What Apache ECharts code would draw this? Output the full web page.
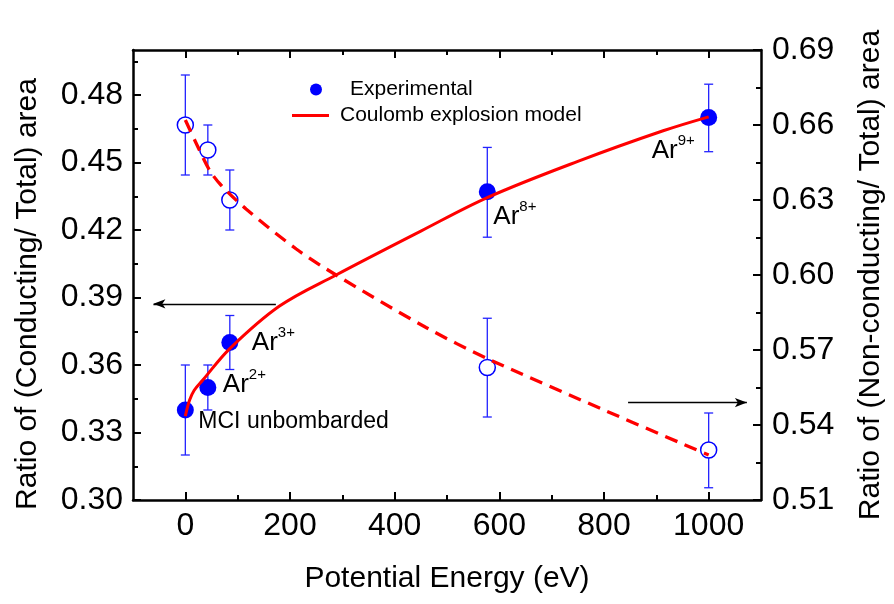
<!DOCTYPE html>
<html><head><meta charset="utf-8">
<script src="https://cdn.jsdelivr.net/npm/echarts@6/dist/echarts.min.js"></script>
<style>html,body{margin:0;padding:0;background:#fff}#c{width:894px;height:604px}</style>
</head><body><div id="c"></div>
<script>
// ---- data ----
const energy = [0, 43, 85, 577, 1000];
const condRatio = [0.340, 0.350, 0.370, 0.437, 0.470];
const condLow = [0.320, 0.340, 0.358, 0.4168, 0.4548];
const condHigh = [0.360, 0.360, 0.382, 0.4567, 0.4848];
const nonRatio = [0.660, 0.650, 0.630, 0.563, 0.530];
const nonLow = [0.640, 0.640, 0.618, 0.5432, 0.5149];
const nonHigh = [0.680, 0.660, 0.642, 0.5827, 0.5448];
const pointLabels = ['MCI unbombarded', 'Ar|2+', 'Ar|3+', 'Ar|8+', 'Ar|9+'];

const modelCondX = [0, 8, 17, 33, 85, 180, 288, 450, 578, 750, 913, 1000];
const modelCondY = [0.3373, 0.3443, 0.3488, 0.3532, 0.3673, 0.3862, 0.400, 0.4195, 0.4345, 0.4505, 0.4641, 0.4703];
const modelNonX = [0, 20, 46, 68, 116, 212, 288, 460, 578, 800, 1000];
const modelNonY = [0.662, 0.653, 0.642, 0.636, 0.6264, 0.6104, 0.600, 0.579, 0.5665, 0.546, 0.528];

const xMajor = [0, 200, 400, 600, 800, 1000];
const xMinor = [100, 300, 500, 700, 900];
const yLeftMajor = [0.30, 0.33, 0.36, 0.39, 0.42, 0.45, 0.48];
const yLeftMinor = [0.315, 0.345, 0.375, 0.405, 0.435, 0.465, 0.495];
const yRightMajor = [0.51, 0.54, 0.57, 0.60, 0.63, 0.66, 0.69];
const yRightMinor = [0.525, 0.555, 0.585, 0.615, 0.645, 0.675];

// arrows (data coords: [xStart, xEnd, yLeftAxis])
const arrowLeft = [173, -61, 0.3872];
const arrowRight = [846, 1073, 0.3433];

// ---- chart ----
const FONT = 'Liberation Sans, Arial, sans-serif';
const chart = echarts.init(document.getElementById('c'), null, {renderer: 'canvas'});

function mkX(pos, ticks, len, showLine, labels) {
  return {
    type: 'value', position: pos, min: -100, max: 1100, gridIndex: 0,
    axisLine: {show: showLine, onZero: false, lineStyle: {color: '#000', width: 2.5}},
    axisTick: {show: true, inside: true, length: len, customValues: ticks, lineStyle: {color: '#000', width: 2}},
    axisLabel: labels ? {show: true, customValues: ticks, fontSize: 32, color: '#000', fontFamily: FONT, margin: 10,
      formatter: v => String(v)} : {show: false},
    splitLine: {show: false}
  };
}
function mkY(pos, min, max, ticks, len, showLine, labels) {
  return {
    type: 'value', position: pos, min: min, max: max, gridIndex: 0,
    axisLine: {show: showLine, onZero: false, lineStyle: {color: '#000', width: 2.5}},
    axisTick: {show: true, inside: true, length: len, customValues: ticks, lineStyle: {color: '#000', width: 2}},
    axisLabel: labels ? {show: true, customValues: ticks, fontSize: 32, color: '#000', fontFamily: FONT,
      margin: pos === 'left' ? 10 : 11, formatter: v => v.toFixed(2)} : {show: false},
    splitLine: {show: false}
  };
}

const xAxes = [
  Object.assign(mkX('bottom', xMajor, 8, true, true), {
    name: 'Potential Energy (eV)', nameLocation: 'middle', nameGap: 64,
    nameTextStyle: {fontSize: 30, color: '#000', fontFamily: FONT}
  }),
  mkX('bottom', xMinor, 5, false, false),
  mkX('top', xMajor, 8, true, false),
  mkX('top', xMinor, 5, false, false)
];
const yAxes = [
  Object.assign(mkY('left', 0.30, 0.50, yLeftMajor, 8, true, true), {
    name: 'Ratio of (Conducting/ Total) area', nameLocation: 'middle', nameGap: 90, nameRotate: 90,
    nameTextStyle: {fontSize: 30, color: '#000', fontFamily: FONT, padding: [0, 38, 0, 0]}
  }),
  mkY('left', 0.30, 0.50, yLeftMinor, 5, false, false),
  Object.assign(mkY('right', 0.51, 0.69, yRightMajor, 8, true, true), {
    name: 'Ratio of (Non-conducting/ Total) area', nameLocation: 'middle', nameGap: 95, nameRotate: 90,
    nameTextStyle: {fontSize: 30, color: '#000', fontFamily: FONT}
  }),
  mkY('right', 0.51, 0.69, yRightMinor, 5, false, false)
];

const ERR = '#2222ff';
function renderErr(params, api) {
  const x = api.value(0), lo = api.value(1), hi = api.value(2);
  const p1 = api.coord([x, hi]), p2 = api.coord([x, lo]);
  const w = 4.5;
  const st = {stroke: ERR, lineWidth: 1.3};
  return {type: 'group', children: [
    {type: 'line', shape: {x1: p1[0], y1: p1[1], x2: p2[0], y2: p2[1]}, style: st},
    {type: 'line', shape: {x1: p1[0] - w, y1: p1[1], x2: p1[0] + w, y2: p1[1]}, style: st},
    {type: 'line', shape: {x1: p2[0] - w, y1: p2[1], x2: p2[0] + w, y2: p2[1]}, style: st}
  ]};
}

const SYM = 17;
const labelOffsets = [[13, 12], [15, -3], [22, 0], [6, 25], [-57, 33]];
const condData = energy.map((x, i) => {
  const parts = pointLabels[i].split('|');
  const fmt = parts.length === 2 ? '{a|' + parts[0] + '}{s|' + parts[1] + '}' : '{m|' + parts[0] + '}';
  return {
    value: [x, condRatio[i]],
    label: {
      show: true, position: [SYM / 2 + labelOffsets[i][0], SYM / 2 + labelOffsets[i][1]],
      align: 'left', verticalAlign: 'middle', opacity: 1,
      formatter: fmt, color: '#000', textBorderWidth: 0,
      rich: {
        a: {fontSize: 26, lineHeight: 34, color: '#000', fontFamily: FONT},
        s: {fontSize: 15, verticalAlign: 'top', color: '#000', fontFamily: FONT},
        m: {fontSize: 23, lineHeight: 24, color: '#000', fontFamily: FONT}
      }
    }
  };
});

const option = {
  animation: false,
  backgroundColor: '#fff',
  grid: {left: 133, right: 132, top: 50, bottom: 104, containLabel: false},
  xAxis: xAxes,
  yAxis: yAxes,
  legend: [
    {data: [{name: 'Experimental', icon: 'circle'}], left: 305, top: 74, itemWidth: 58, itemHeight: 12,
      selectedMode: false, textStyle: {fontSize: 21, color: '#000', fontFamily: FONT}},
    {data: [{name: 'Coulomb explosion model', icon: 'rect'}], left: 287, top: 100, itemWidth: 37, itemHeight: 3,
      selectedMode: false, textStyle: {fontSize: 21, color: '#000', fontFamily: FONT, padding: [0, 0, 0, 6]}}
  ],
  series: [
    {name: 'errCond', type: 'custom', xAxisIndex: 0, yAxisIndex: 0, z: 1, renderItem: renderErr,
      data: energy.map((x, i) => [x, condLow[i], condHigh[i]]), silent: true},
    {name: 'errNon', type: 'custom', xAxisIndex: 0, yAxisIndex: 2, z: 1, renderItem: renderErr,
      data: energy.map((x, i) => [x, nonLow[i], nonHigh[i]]), silent: true},
    {name: 'Experimental', type: 'scatter', xAxisIndex: 0, yAxisIndex: 0, z: 2, symbol: 'circle', symbolSize: SYM,
      itemStyle: {color: '#0000ff', opacity: 1}, data: condData,
      markLine: {silent: true, symbol: ['none', 'arrow'], symbolSize: [7, 12], animation: false,
        lineStyle: {color: '#000', width: 1.3, type: 'solid', opacity: 1}, label: {show: false},
        emphasis: {disabled: true},
        data: [
          [{coord: [arrowLeft[0], arrowLeft[2]]}, {coord: [arrowLeft[1], arrowLeft[2]]}],
          [{coord: [arrowRight[0], arrowRight[2]]}, {coord: [arrowRight[1], arrowRight[2]]}]
        ]}},
    {name: 'Experimental (non-conducting)', type: 'scatter', xAxisIndex: 0, yAxisIndex: 2, z: 2,
      symbol: 'circle', symbolSize: 16,
      itemStyle: {color: '#ffffff', borderColor: '#0000ff', borderWidth: 1.5, opacity: 1},
      data: energy.map((x, i) => [x, nonRatio[i]])},
    {name: 'Coulomb explosion model', type: 'line', xAxisIndex: 0, yAxisIndex: 0, z: 3,
      symbol: 'none', smooth: 0.35, color: '#ff0000',
      lineStyle: {color: '#ff0000', width: 3},
      data: modelCondX.map((x, i) => [x, modelCondY[i]])},
    {name: 'Coulomb explosion model', type: 'line', xAxisIndex: 0, yAxisIndex: 2, z: 3,
      symbol: 'none', smooth: 0.3, color: '#ff0000',
      lineStyle: {color: '#ff0000', width: 3.3, type: [13, 8]},
      data: modelNonX.map((x, i) => [x, modelNonY[i]])}
  ]
};
chart.setOption(option);
</script>
</body></html>
